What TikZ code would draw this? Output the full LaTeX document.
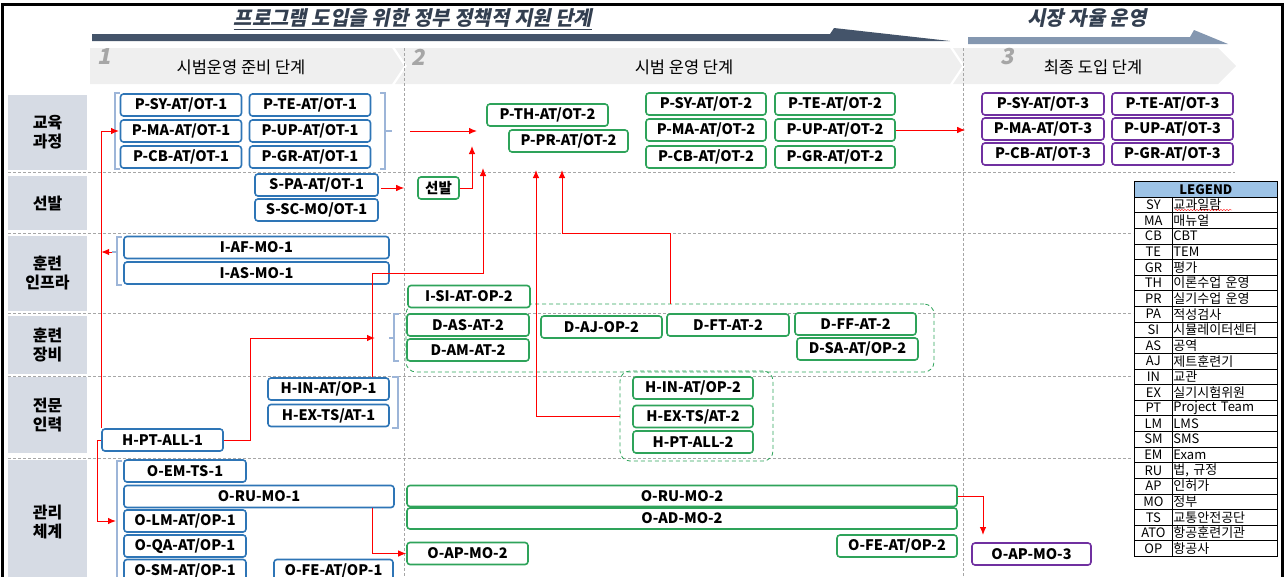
\documentclass[tikz,border=0pt]{standalone}
\usepackage{fontspec}
\setmainfont{Noto Sans CJK KR}
\newfontfamily\slantfam{Noto Sans CJK KR}[FakeSlant=0.2,BoldFeatures={FakeSlant=0.2}]
\usetikzlibrary{arrows.meta,decorations.pathmorphing}
\tikzset{
  >={Latex[length=8pt,width=6.5pt]}
}
\definecolor{prepblue}{HTML}{2E75B6}
\definecolor{trialgreen}{HTML}{2EA35A}
\definecolor{finalpurple}{HTML}{7030A0}
\definecolor{rowgray}{HTML}{D6DBE4}
\definecolor{bandgray}{HTML}{EFEFEF}
\definecolor{darkslate}{HTML}{44546A}
\definecolor{lightslate}{HTML}{8497B0}
\definecolor{titleslate}{HTML}{333F50}
\definecolor{brkblue}{HTML}{9DB5D8}
\definecolor{legblue}{HTML}{9DC3E6}
\definecolor{numgray}{HTML}{A6A6A6}

\begin{document}
\begin{tikzpicture}[x=1pt,y=-1pt,
  nodebox/.style={rounded corners=3pt,line width=1.6pt,fill=white,minimum width=121pt,
    minimum height=22pt,inner sep=0pt,font=\bfseries\fontsize{14.5}{14.5}\selectfont},
  prepbox/.style={nodebox,draw=prepblue},
  trialbox/.style={nodebox,draw=trialgreen},
  finalbox/.style={nodebox,draw=finalpurple},
  grpbox/.style={draw=trialgreen,dash pattern=on 4pt off 3pt,rounded corners=10pt,
    line width=0.8pt,inner sep=0pt},
  rowlab/.style={fill=rowgray,minimum width=79pt,inner sep=0pt,align=center,
    font=\bfseries\fontsize{16}{19}\selectfont},
  rowsep/.style={gray!70,dash pattern=on 3pt off 2pt,line width=0.8pt},
  brk/.style={brkblue,line width=1.1pt},
  flow/.style={->,red,line width=1pt},
  toptitle/.style={text=titleslate,font=\slantfam\bfseries\fontsize{20}{20}\selectfont},
  stagetxt/.style={text=black,font=\fontsize{16.5}{16.5}\selectfont},
  stagenum/.style={text=numgray,font=\slantfam\bfseries\fontsize{22}{22}\selectfont},
  legcell/.style={draw,line width=0.8pt,minimum height=15.625pt,inner sep=0pt,
    anchor=north west,font=\fontsize{13}{13}\selectfont}]
\useasboundingbox (0,0) rectangle (1285,576);

% frame
\draw[line width=3pt] (2,4) rectangle (1282,640);

% top arrows
\fill[darkslate] (92,34) -- (830,34) -- (834,28) -- (950,41) -- (92,41) -- cycle;
\fill[lightslate] (968,37) -- (1190,37) -- (1194,30) -- (1228,44) -- (968,44) -- cycle;
\node[toptitle] (govtitle) at (413,19) {\underline{프로그램 도입을 위한 정부 정책적 지원 단계}};
\node[toptitle] (mkttitle) at (1087,18) {시장 자율 운영};

% stage band
\fill[bandgray] (90,48) -- (392,48) -- (404,66) -- (392,84) -- (90,84) -- cycle;
\fill[bandgray] (395,48) -- (950,48) -- (962,66) -- (950,84) -- (395,84) -- (407,66) -- cycle;
\fill[bandgray] (953,48) -- (1218,48) -- (1236,66) -- (1218,84) -- (953,84) -- (965,66) -- cycle;
\node[stagenum] (num1) at (104,57) {1};
\node[stagenum] (num2) at (418,57) {2};
\node[stagenum] (num3) at (1007,57) {3};
\node[stagetxt] (stage1) at (241,67) {시범운영 준비 단계};
\node[stagetxt] (stage2) at (684,67) {시범 운영 단계};
\node[stagetxt] (stage3) at (1093,67) {최종 도입 단계};

% separators
\draw[rowsep] (8,172) -- (1235,172);
\foreach \yy in {233,313,376,458}
  \draw[rowsep] (8,\yy) -- (1133,\yy);
\foreach \xx in {404,963}
  \draw[rowsep] (\xx,48) -- (\xx,580);

% row labels
\node[rowlab,minimum height=75pt] (rowcur) at (47.5,132.5) {교육\\과정};
\node[rowlab,minimum height=54pt] (rowsel) at (47.5,203) {선발};
\node[rowlab,minimum height=75pt] (rowinf) at (47.5,273.5) {훈련\\인프라};
\node[rowlab,minimum height=58pt] (roweqp) at (47.5,345) {훈련\\장비};
\node[rowlab,minimum height=76pt] (rowhum) at (47.5,415) {전문\\인력};
\node[rowlab,minimum height=124pt] (rowmgt) at (47.5,522) {관리\\체계};

% brackets
\draw[brk] (120,93) -- (115,93) -- (115,169) -- (120,169);
\draw[brk] (380,93) -- (385,93) -- (385,169) -- (380,169);
\draw[brk] (385,131) -- (392,131);
\draw[brk] (122,237) -- (117,237) -- (117,285) -- (122,285);
\draw[brk] (117,252) -- (112,252);
\draw[brk] (399,314) -- (394,314) -- (394,361) -- (399,361);
\draw[brk] (394,338) -- (389,338);
\draw[brk] (392,377) -- (398,377) -- (398,428) -- (392,428);
\draw[brk] (122,461) -- (117,461) -- (117,590);

% groups (stage 2)
\node[grpbox,minimum width=528pt,minimum height=68pt] (grpD) at (670,338) {};
\node[grpbox,minimum width=153pt,minimum height=90pt] (grpH) at (696.5,416) {};

% stage 1
\node[prepbox] (p1sy) at (181,105) {P-SY-AT/OT-1};
\node[prepbox] (p1te) at (310,105) {P-TE-AT/OT-1};
\node[prepbox] (p1ma) at (181,131) {P-MA-AT/OT-1};
\node[prepbox] (p1up) at (310,131) {P-UP-AT/OT-1};
\node[prepbox] (p1cb) at (181,157) {P-CB-AT/OT-1};
\node[prepbox] (p1gr) at (310,157) {P-GR-AT/OT-1};
\node[prepbox,minimum width=123pt] (s1pa) at (316.5,185) {S-PA-AT/OT-1};
\node[prepbox,minimum width=123pt] (s1sc) at (316.5,210) {S-SC-MO/OT-1};
\node[prepbox,minimum width=265pt] (i1af) at (256.5,247.5) {I-AF-MO-1};
\node[prepbox,minimum width=265pt] (i1as) at (256.5,273) {I-AS-MO-1};
\node[prepbox] (h1in) at (328.5,389) {H-IN-AT/OP-1};
\node[prepbox] (h1ex) at (328.5,415.5) {H-EX-TS/AT-1};
\node[prepbox] (h1pt) at (162.5,440) {H-PT-ALL-1};
\node[prepbox,minimum width=122pt] (o1em) at (185,471) {O-EM-TS-1};
\node[prepbox,minimum width=270pt] (o1ru) at (259,496.5) {O-RU-MO-1};
\node[prepbox,minimum width=122pt] (o1lm) at (185,521) {O-LM-AT/OP-1};
\node[prepbox,minimum width=122pt] (o1qa) at (185,546) {O-QA-AT/OP-1};
\node[prepbox,minimum width=122pt] (o1sm) at (185,570.5) {O-SM-AT/OP-1};
\node[prepbox,minimum width=119pt] (o1fe) at (333.5,570.5) {O-FE-AT/OP-1};

% stage 2
\node[trialbox] (p2th) at (547.5,115) {P-TH-AT/OT-2};
\node[trialbox,minimum width=119pt] (p2pr) at (568.5,141) {P-PR-AT/OT-2};
\node[trialbox,minimum width=120pt] (p2sy) at (706,104) {P-SY-AT/OT-2};
\node[trialbox,minimum width=120pt] (p2te) at (835,104) {P-TE-AT/OT-2};
\node[trialbox,minimum width=120pt] (p2ma) at (706,130) {P-MA-AT/OT-2};
\node[trialbox,minimum width=120pt] (p2up) at (835,130) {P-UP-AT/OT-2};
\node[trialbox,minimum width=120pt] (p2cb) at (706,157) {P-CB-AT/OT-2};
\node[trialbox,minimum width=120pt] (p2gr) at (835,157) {P-GR-AT/OT-2};
\node[trialbox,minimum width=41pt] (s2pa) at (438.5,188) {선발};
\node[trialbox,minimum width=122pt] (i2si) at (469,296.5) {I-SI-AT-OP-2};
\node[trialbox,minimum width=122pt] (d2as) at (468,325) {D-AS-AT-2};
\node[trialbox,minimum width=122pt] (d2am) at (468,350) {D-AM-AT-2};
\node[trialbox] (d2aj) at (601.5,327) {D-AJ-OP-2};
\node[trialbox,minimum width=122pt] (d2ft) at (728,325) {D-FT-AT-2};
\node[trialbox] (d2ff) at (855.5,324) {D-FF-AT-2};
\node[trialbox] (d2sa) at (857.5,349) {D-SA-AT/OP-2};
\node[trialbox,minimum width=120pt] (h2in) at (693,388) {H-IN-AT/OP-2};
\node[trialbox,minimum width=120pt] (h2ex) at (693,416.5) {H-EX-TS/AT-2};
\node[trialbox,minimum width=120pt] (h2pt) at (693,442) {H-PT-ALL-2};
\node[trialbox,minimum width=550pt,minimum height=21pt] (o2ru) at (682,496) {O-RU-MO-2};
\node[trialbox,minimum width=550pt,minimum height=21pt] (o2ad) at (682,518.5) {O-AD-MO-2};
\node[trialbox] (o2ap) at (467.5,553.5) {O-AP-MO-2};
\node[trialbox,minimum width=120pt] (o2fe) at (897,546) {O-FE-AT/OP-2};

% stage 3
\node[finalbox,minimum width=122pt] (p3sy) at (1043,104) {P-SY-AT/OT-3};
\node[finalbox] (p3te) at (1172.5,104) {P-TE-AT/OT-3};
\node[finalbox,minimum width=122pt] (p3ma) at (1043,129) {P-MA-AT/OT-3};
\node[finalbox] (p3up) at (1172.5,129) {P-UP-AT/OT-3};
\node[finalbox,minimum width=122pt] (p3cb) at (1043,154) {P-CB-AT/OT-3};
\node[finalbox] (p3gr) at (1172.5,154) {P-GR-AT/OT-3};
\node[finalbox,minimum width=119pt] (o3ap) at (1031.5,554) {O-AP-MO-3};

% red flows
\coordinate (inP) at (119,131);
\coordinate (inI) at (112,252);
\coordinate (inO) at (116,521);
\coordinate (inD) at (375,338);
\coordinate (outP) at (410,131);
\coordinate (toTH) at (477,131);
\coordinate (toSB) at (472,146);
\coordinate (toIN) at (483,168);
\coordinate (toPR1) at (536,170);
\coordinate (toPR2) at (562,170);
\coordinate (toAP3) at (983,543);
\draw[flow] (h1pt.north west) |- (inP);
\draw[flow] (inI) -- (inI -| h1pt.west);
\draw[flow] (h1pt.west) -- ++(-4,0) |- (inO);
\draw[flow] (h1pt.east) -- ++(27,0) |- (inD);
\draw[flow] ([xshift=-17pt]h1in.north east) |- (toIN |- i1as) -- (toIN);
\draw[flow,shorten <=2pt,shorten >=13pt] (s1pa.east |- s2pa.west) -- (s2pa.west);
\draw[flow] (s2pa.east) -| (toSB);
\draw[flow] (outP) -- (toTH);
\draw[flow] (grpD.north) -- ++(0,-70) -| (toPR2);
\draw[flow] (grpH.west |- h2ex) -| (toPR1);
\draw[flow,shorten >=16pt] (p2up.east) -- (p2up.east -| p3ma.west);
\draw[flow,shorten >=8pt] (o2ru.east) -| (toAP3);
\draw[flow] ([xshift=-22pt]o1ru.south east) |- (o2ap.west);

% legend
\node[legcell,fill=legblue,minimum width=143pt,font=\bfseries\fontsize{13}{13}\selectfont]
  (leghead) at (1134,181) {LEGEND};
\foreach \k/\v [count=\i] in {SY/교과일람,MA/매뉴얼,CB/CBT,TE/TEM,GR/평가,TH/이론수업 운영,
    PR/실기수업 운영,PA/적성검사,SI/시뮬레이터센터,AS/공역,AJ/제트훈련기,IN/교관,
    EX/실기시험위원,PT/Project Team,LM/LMS,SM/SMS,EM/Exam,RU/{법, 규정},AP/인허가,
    MO/정부,TS/교통안전공단,ATO/항공훈련기관,OP/항공사} {
  \node[legcell,minimum width=38pt] (key\i) at (1134,{181+\i*15.625}) {\k};
  \node[legcell,minimum width=105pt,text width=103pt,align=left] (val\i)
    at (1172,{181+\i*15.625}) {\v};
}
\draw[red,decorate,decoration={snake,amplitude=0.6pt,segment length=3pt}]
  (1175,210) -- (1232,210);
\end{tikzpicture}
\end{document}
